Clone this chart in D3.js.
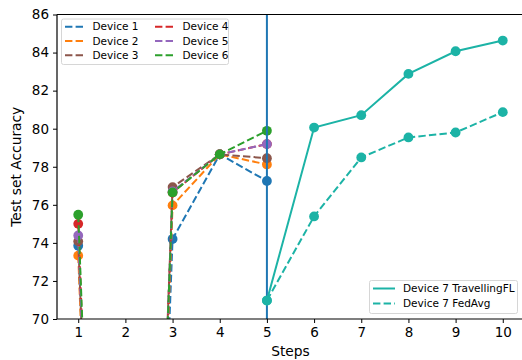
<!DOCTYPE html>
<html><head><meta charset="utf-8">
<script src="https://cdn.jsdelivr.net/npm/d3@7"></script>
<style>body{margin:0;background:#fff;} svg{display:block;font-family:"DejaVu Sans",sans-serif;}</style>
</head><body>
<svg id="c" width="522" height="360"></svg>
<script>
const steps = [1,2,3,4,5];
const deviceNames = ["Device 1","Device 2","Device 3","Device 4","Device 5","Device 6"];
const deviceColors = ["#1f77b4","#ff7f0e","#8c564b","#d62728","#9467bd","#2ca02c"];
const device1 = [73.85, 10, 74.2, 78.65, 77.25];
const device2 = [73.33, 10, 75.97, 78.65, 78.12];
const device3 = [74.08, 10, 76.93, 78.65, 78.45];
const device4 = [75.0, 10, 76.65, 78.65, 79.19];
const device5 = [74.39, 10, 76.7, 78.65, 79.19];
const device6 = [75.48, 10, 76.65, 78.65, 79.89];
const device7Steps = [5,6,7,8,9,10];
const device7Travelling = [70.97, 80.06, 80.71, 82.88, 84.07, 84.63];
const device7FedAvg = [70.97, 75.39, 78.49, 79.54, 79.8, 80.87];
const xTicks = [1,2,3,4,5,6,7,8,9,10];
const yTicks = [70,72,74,76,78,80,82,84,86];
const teal = "#1cb3a6";

const devices = [device1,device2,device3,device4,device5,device6];
const svg = d3.select("#c");
const L=57, T=14.5, B=319, R=524;
const x = d3.scaleLinear().domain([0.55,10.45]).range([L,R]);
const y = d3.scaleLinear().domain([70,86]).range([B,T]);

svg.append("defs").append("clipPath").attr("id","clip")
  .append("rect").attr("x",L).attr("y",T).attr("width",R-L).attr("height",B-T);
const plot = svg.append("g").attr("clip-path","url(#clip)");
const line = d3.line().x(d=>x(d[0])).y(d=>y(d[1]));

devices.forEach((vals,i)=>{
  const pts = steps.map((s,j)=>[s,vals[j]]);
  plot.append("path").attr("d",line(pts)).attr("fill","none")
    .attr("stroke",deviceColors[i]).attr("stroke-width",2).attr("stroke-dasharray","7.4,3.2");
  plot.selectAll(null).data(pts).enter().append("circle")
    .attr("cx",d=>x(d[0])).attr("cy",d=>y(d[1])).attr("r",4.9).attr("fill",deviceColors[i]);
});

plot.append("line").attr("x1",x(5)).attr("x2",x(5)).attr("y1",T).attr("y2",B)
  .attr("stroke","#1f77b4").attr("stroke-width",2);

[[device7Travelling,null],[device7FedAvg,"7.4,3.2"]].forEach(([vals,dash])=>{
  const pts = device7Steps.map((s,j)=>[s,vals[j]]);
  const p = plot.append("path").attr("d",line(pts)).attr("fill","none")
    .attr("stroke",teal).attr("stroke-width",2);
  if(dash) p.attr("stroke-dasharray",dash);
  plot.selectAll(null).data(pts).enter().append("circle")
    .attr("cx",d=>x(d[0])).attr("cy",d=>y(d[1])).attr("r",4.9).attr("fill",teal);
});

// axes
const xa = svg.append("g").attr("transform",`translate(0,${B})`)
  .call(d3.axisBottom(x).tickValues(xTicks).tickFormat(d3.format("d")).tickSize(4).tickPadding(4));
const ya = svg.append("g").attr("transform",`translate(${L},0)`)
  .call(d3.axisLeft(y).tickValues(yTicks).tickFormat(d3.format("d")).tickSize(4).tickPadding(4));
[xa,ya].forEach(a=>{
  a.selectAll("path.domain").attr("stroke","#000").attr("stroke-width",1.2);
  a.selectAll("line").attr("stroke","#000").attr("stroke-width",1);
  a.selectAll("text").attr("font-size",13.5).attr("fill","#000").attr("font-family","DejaVu Sans");
});
xa.select("path.domain").attr("d",`M${L},0H${R}`);
ya.select("path.domain").attr("d",`M0,${B}V${T}`);
svg.append("line").attr("x1",L).attr("x2",R).attr("y1",T).attr("y2",T).attr("stroke","#000").attr("stroke-width",1.2);

svg.append("text").attr("x",x(5.5)).attr("y",356.3).attr("text-anchor","middle")
  .attr("font-size",13.8).text("Steps");
svg.append("text").attr("transform",`translate(21,${(T+B)/2}) rotate(-90)`).attr("text-anchor","middle")
  .attr("font-size",13.8).text("Test set Accuracy");

// legend 1
const lg1 = svg.append("g");
lg1.append("rect").attr("x",61.5).attr("y",19).attr("width",167).attr("height",45.5).attr("rx",2)
  .attr("fill","#fff").attr("fill-opacity",0.8).attr("stroke","#d6d6d6");
deviceNames.forEach((n,i)=>{
  const col = Math.floor(i/3), row = i%3;
  const hx = col? 155 : 65, ty = 26.8 + row*14.2, tx = col? 182.5 : 92.5;
  lg1.append("line").attr("x1",hx).attr("x2",hx+19).attr("y1",ty).attr("y2",ty)
    .attr("stroke",deviceColors[i]).attr("stroke-width",2).attr("stroke-dasharray","7.4,3.2");
  lg1.append("text").attr("x",tx).attr("y",ty).attr("dy","0.35em").attr("font-size",10.5).text(n);
});
// legend 2
const lg2 = svg.append("g");
lg2.append("rect").attr("x",369.5).attr("y",280.5).attr("width",148).attr("height",33).attr("rx",2)
  .attr("fill","#fff").attr("fill-opacity",0.8).attr("stroke","#d6d6d6");
[["Device 7 TravellingFL",null],["Device 7 FedAvg","7.4,3.2"]].forEach(([n,dash],i)=>{
  const ty = 288.5 + i*15;
  const l = lg2.append("line").attr("x1",373).attr("x2",395).attr("y1",ty).attr("y2",ty)
    .attr("stroke",teal).attr("stroke-width",2);
  if(dash) l.attr("stroke-dasharray",dash);
  lg2.append("text").attr("x",403).attr("y",ty).attr("dy","0.35em").attr("font-size",10.5).text(n);
});
</script>
</body></html>
